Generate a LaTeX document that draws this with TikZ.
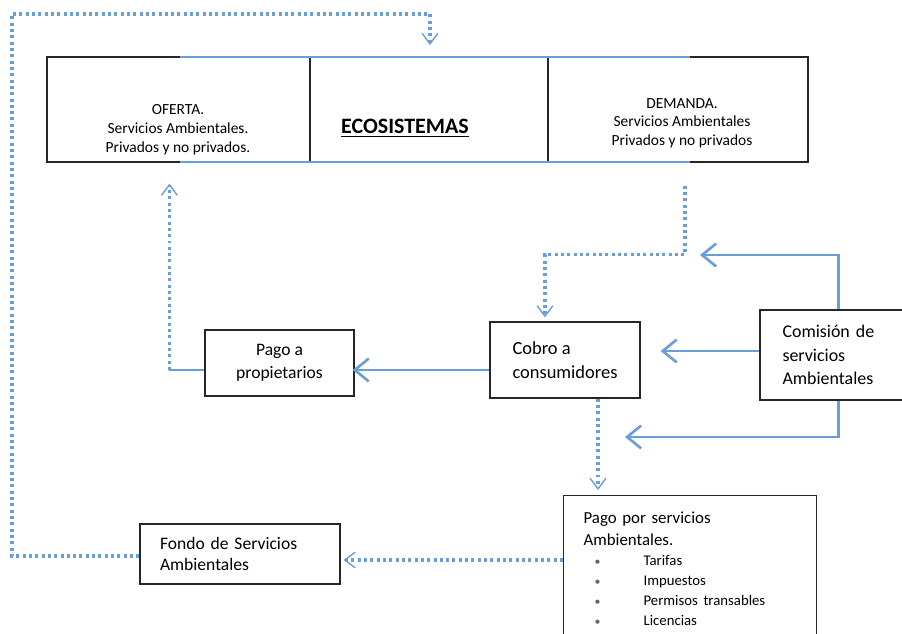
\documentclass[tikz,border=0pt]{standalone}
\usepackage{fontspec}
\setmainfont{Carlito}
\usetikzlibrary{arrows.meta,calc}

\definecolor{azul}{RGB}{106,158,216}

\newcommand{\punto}{\makebox[0.98cm][l]{\color{black!60}\scalebox{0.8}{\textbullet}}}

\begin{document}
\begin{tikzpicture}[x=0.02cm,y=-0.02cm,
  caja/.style={draw=black!85,line width=0.7pt,rectangle},
  flujo/.style={draw=azul,line width=1.7pt,-{Straight Barb[length=8pt,width=13pt,line width=1.5pt]}},
  punteado/.style={draw=azul,line width=1.9pt,dash pattern=on 1.7pt off 1.9pt},
  punta/.style={-{Straight Barb[length=6pt,width=9pt,line width=0.8pt]}}]

% Page size
\clip (0,0) rectangle (902,634);
\fill[white] (0,0) rectangle (902,634);

% Top box: three parts
\node[caja, minimum width=5.26cm, minimum height=2.1cm] (oferta) at (178.5,109.5) {};
\node[caja, minimum width=4.76cm, minimum height=2.1cm] (eco) at (429,109.5) {};
\node[caja, minimum width=5.2cm, minimum height=2.1cm] (demanda) at (678,109.5) {};
\draw[azul, line width=1.2pt] (180,57) -- (690,57);
\draw[azul, line width=1.2pt] (180,162) -- (690,162);

% Texts of the top box
\node[align=center, font=\fontsize{8.8}{10.8}\selectfont] (tOferta) at (178,130)
  {OFERTA.\\Servicios Ambientales.\\Privados y no privados.};
\node[font=\fontsize{12.5}{14}\selectfont\bfseries] (tEco) at (405,128) {\underline{ECOSISTEMAS}};
\node[align=center, font=\fontsize{8.8}{10.6}\selectfont] (tDemanda) at (682,123)
  {DEMANDA.\\Servicios Ambientales\\Privados y no privados};

% Middle boxes
\node[caja, minimum width=2.98cm, minimum height=1.32cm, align=center,
  font=\fontsize{10}{13}\selectfont] (pago) at (279.5,363) {Pago a\\propietarios};
\node[caja, minimum width=3cm, minimum height=1.52cm, align=left,
  font=\fontsize{10.5}{14}\selectfont] (cobro) at (565,360) {Cobro a\\consumidores};
\node[caja, minimum width=2.9cm, minimum height=1.8cm, text width=2.0cm, inner xsep=0.44cm,
  align=left, font=\fontsize{10.2}{13.4}\selectfont] (comision) at (832.5,355)
  {Comisión de\\servicios\\Ambientales};

% Bottom boxes
\node[caja, minimum width=4cm, minimum height=1.2cm, text width=3.2cm, inner xsep=0.4cm,
  align=left, font=\fontsize{10}{11.5}\selectfont] (fondo) at (240,554)
  {Fondo de Servicios\\Ambientales};
\node[caja, anchor=north west, text width=4.26cm, inner xsep=0.4cm, inner ysep=0.32cm,
  align=left, font=\fontsize{9.6}{12.5}\selectfont] (pps) at (563,495)
  {Pago por servicios\\Ambientales.\\[0.5pt]
   {\fontsize{8.4}{11.3}\selectfont
   \hspace*{0.22cm}\punto Tarifas\\
   \hspace*{0.22cm}\punto Impuestos\\
   \hspace*{0.22cm}\punto Permisos transables\\
   \hspace*{0.22cm}\punto Licencias\par}};

% Free ends
\coordinate (retA) at (700,255);
\coordinate (retB) at (625,437);
\coordinate (vuelta) at (12,556);

% Solid arrows
\draw[flujo] (comision.north) ++(5.5,0) |- (retA);
\draw[flujo] (comision.south) ++(5.5,0) |- (retB);
\draw[flujo] (comision.west) ++(0,-4) coordinate (c1) -- (c1 -| cobro.east) [shorten >=0.4cm];
\draw[flujo] (cobro.west) ++(0,10) coordinate (c2) -- (c2 -| pago.east) [shorten >=-0.04cm];

% From Pago a propietarios up to the offer
\draw[azul, line width=1.7pt] (pago.west) ++(0,7) coordinate (p1) -- ++(-35,0) coordinate (p2);
\draw[punteado, punta] (p2) -- (p2 |- oferta.south) [shorten >=0.42cm];

% From the demand down to Cobro a consumidores
\draw[punteado, punta] (demanda.south) ++(7,23) coordinate (d0) |- ($(cobro.north)+(-20,-67)$)
  -- ($(cobro.north)+(-20,-4)$);

% From Cobro a consumidores down to Pago por servicios
\draw[punteado, punta] (cobro.south) ++(33,0) coordinate (c3) -- (c3 |- pps.north) [shorten >=0.1cm];

% From Pago por servicios to the fund
\draw[punteado, punta] (pps.west |- 0,560) -- (fondo.east |- 0,560) [shorten >=0.06cm];

% From the fund back to the ecosystems
\draw[punteado, punta] (fondo.west |- vuelta) -- (vuelta) |- (430,14) -- (430,57) [shorten >=0.24cm];

\end{tikzpicture}
\end{document}
